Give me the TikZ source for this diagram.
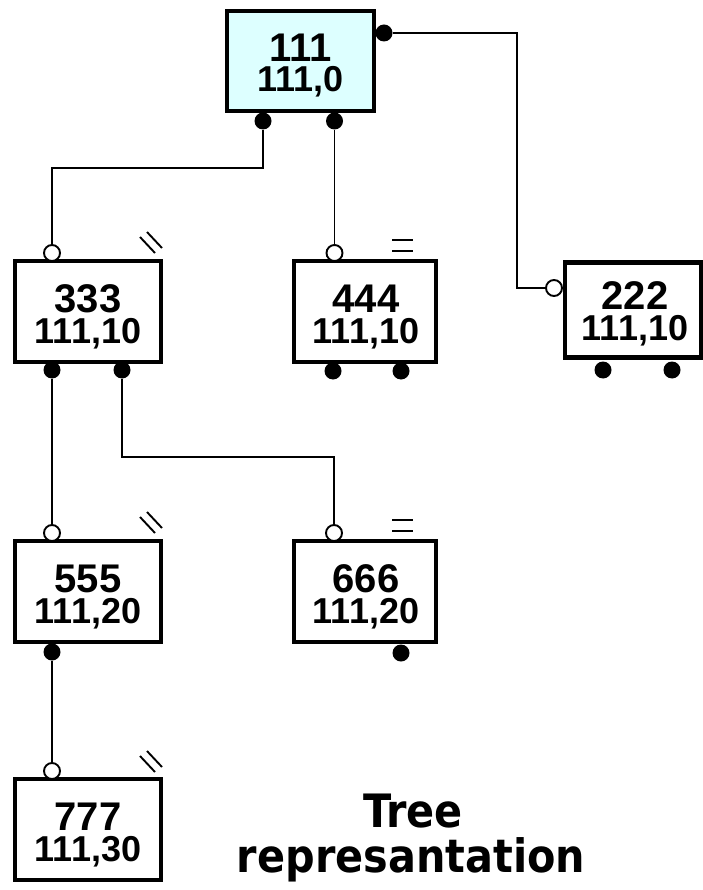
\documentclass[tikz,border=0pt]{standalone}
\usepackage{fontspec}
\setmainfont{Liberation Sans}
\newfontfamily\treefont{DejaVu Sans Condensed}
\definecolor{rootfill}{RGB}{221,255,255}
\newcommand{\twolines}[2]{{\fontsize{10}{18}\selectfont\begin{tabular}[b]{@{}c@{}}\fontsize{40}{40}\selectfont #1\\\fontsize{36}{36}\selectfont #2\end{tabular}}}
\begin{document}
\begin{tikzpicture}[x=1pt,y=-1pt,
  box/.style={draw, line width=4.5pt, inner sep=0pt, fill=white},
  boxtext/.style={font=\bfseries, inner sep=0pt, anchor=base},
  opendot/.style={circle, draw, line width=1.9pt, fill=white, minimum size=16pt, inner sep=0pt},
  fulldot/.style={circle, fill=black, minimum size=17pt, inner sep=0pt},
  conn/.style={line width=1.9pt},
  tickmark/.style={line width=1.9pt},
  title/.style={font=\treefont\bfseries\fontsize{46}{46}\selectfont, inner sep=0pt, anchor=base}
]
\useasboundingbox (0,0) rectangle (702,890);

% boxes
\node[box, fill=rootfill, minimum width=147pt, minimum height=100pt] (b111) at (300.5,61) {};
\node[box, minimum width=146pt, minimum height=101pt] (b333) at (88,311.5) {};
\node[box, minimum width=142pt, minimum height=101pt] (b444) at (365,311.5) {};
\node[box, minimum width=136pt, minimum height=95pt] (b222) at (633,310) {};
\node[box, minimum width=146pt, minimum height=101pt] (b555) at (88,591.5) {};
\node[box, minimum width=142pt, minimum height=101pt] (b666) at (365,591.5) {};
\node[box, minimum width=146pt, minimum height=101pt] (b777) at (88,829.5) {};

% texts (anchored at the baseline of the second line)
\node[boxtext] (t111) at (300.5,92) {\twolines{111}{111,0}};
\node[boxtext] (t333) at (88,343) {\twolines{333}{111,10}};
\node[boxtext] (t444) at (366,343) {\twolines{444}{111,10}};
\node[boxtext] (t222) at (635,340) {\twolines{222}{111,10}};
\node[boxtext] (t555) at (88,623) {\twolines{555}{111,20}};
\node[boxtext] (t666) at (366,623) {\twolines{666}{111,20}};
\node[boxtext] (t777) at (88,861) {\twolines{777}{111,30}};

% dots
\node[fulldot] (o111a) at (263,121) {};
\node[fulldot] (o111b) at (334.5,121) {};
\node[fulldot] (o111r) at (384,33) {};
\node[opendot] (i333) at (52,253) {};
\node[opendot] (i444) at (334.5,253) {};
\node[opendot] (i222) at (554,288) {};
\node[fulldot] (o333a) at (52,370) {};
\node[fulldot] (o333b) at (122,370) {};
\node[fulldot] (o444a) at (333,371) {};
\node[fulldot] (o444b) at (401,371) {};
\node[fulldot] (o222a) at (603,370) {};
\node[fulldot] (o222b) at (672,370) {};
\node[opendot] (i555) at (52,533) {};
\node[opendot] (i666) at (334,533) {};
\node[fulldot] (o555) at (52,652) {};
\node[fulldot] (o666) at (401,653) {};
\node[opendot] (i777) at (52,771) {};

% corner coordinates
\coordinate (k1) at (150,168);
\coordinate (k2) at (517,150);
\coordinate (k3) at (200,457);

% connectors
\draw[conn] (o111a) |- (k1) -| (i333);
\draw[conn] (o111b) -- (i444);
\draw[conn] (o111r) -| (k2) |- (i222);
\draw[conn] (o333a) -- (i555);
\draw[conn] (o333b) |- (k3) -| (i666);
\draw[conn] (o555) -- (i777);

% marks
\draw[tickmark] (140,237) -- (155,253) (147,232) -- (162,248);
\draw[tickmark] (140,517) -- (155,533) (147,512) -- (162,528);
\draw[tickmark] (140,756) -- (155,772) (147,751) -- (162,767);
\draw[tickmark] (392,240) -- (413,240) (392,251) -- (413,251);
\draw[tickmark] (392,520) -- (413,520) (392,531) -- (413,531);

% title
\node[title] (ttl1) at (413,827) {Tree};
\node[title] (ttl2) at (411,872) {represantation};
\end{tikzpicture}
\end{document}
